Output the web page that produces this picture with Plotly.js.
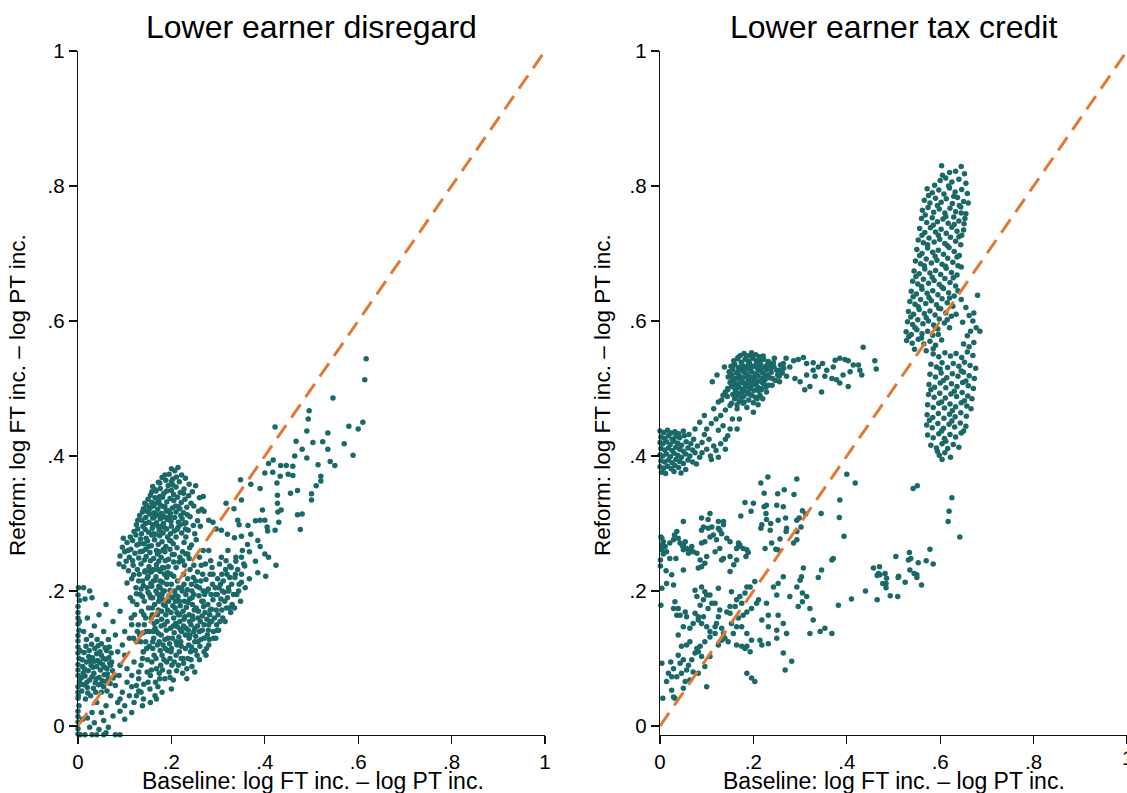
<!DOCTYPE html>
<html>
<head>
<meta charset="utf-8">
<script src="https://cdn.plot.ly/plotly-3.0.1.min.js"></script>
<style>
  html, body { margin: 0; padding: 0; background: #fff; }
  #chart { width: 1127px; height: 793px; }
</style>
</head>
<body>
<div id="chart"></div>
<script>
// Panel titles, axis titles and tick labels
const panelTitles = ['Lower earner disregard', 'Lower earner tax credit'];
const xTitle = 'Baseline: log FT inc. \u2013 log PT inc.';
const yTitle = 'Reform: log FT inc. \u2013 log PT inc.';
const tickVals = [0, 0.2, 0.4, 0.6, 0.8, 1];
const tickText = ['0', '.2', '.4', '.6', '.8', '1'];
const diagonal = { x: [0, 1], y: [0, 1] };

// ---- Left panel: lower earner disregard, [baseline, reform] pairs ----
const disStrip = [[0,-.012],[0,-.004],[0,.006],[0,.014],[0,.022],[.002,.03],[0,.041],[0,.05],[0,.058],[.003,.066],[0,.075],[0,.083],[0,.091],[.002,.1],[0,.108],[0,.117],[0,.126],[0,.134],[.002,.142],[0,.151],[0,.16],[0,.168],[0,.177],[.003,.186],[0,.194],[.001,.205],[.004,.112],[.004,.072],[.001,.045],[.003,.155]];

const disOrigin = [[.008,.052],[.012,.061],[.015,.074],[.01,.088],[.018,.095],[.022,.082],[.025,.068],[.02,.057],[.028,.09],[.031,.101],[.034,.078],[.037,.064],[.04,.088],[.042,.097],[.045,.072],[.048,.083],[.05,.105],[.053,.091],[.056,.076],[.059,.099],[.062,.085],[.065,.07],[.068,.093],[.071,.108],[.013,.109],[.017,.118],[.024,.112],[.029,.121],[.036,.115],[.043,.119],[.049,.062],[.055,.058],[.038,.05],[.027,.045],[.016,.04],[.007,.071],[.009,.098],[.032,.087],[.046,.094],[.052,.067],[.061,.112],[.066,.101],[.074,.082],[.069,.063],[.058,.116],[.04,.107],[.023,.103],[.011,.078],[.019,.065],[.035,.096],[.044,.061],[.057,.087],[.03,.073],[.026,.097],[.014,.084],[.039,.07],[.047,.11],[.063,.077],[.072,.095],[.021,.049],[.033,.056],[.054,.1],[.06,.066],[.067,.117],[.075,.071],[.006,.062],[.018,.128],[.028,.134],[.041,.128],[.05,.122]];

const disLowScatter = [[.012,.205],[.025,.2],[.015,.188],[.03,.19],[.06,.18],[.045,.165],[.02,.16],[.035,.148],[.055,.14],[.075,.155],[.09,.17],[.012,.14],[.065,.128],[.08,.135],[.095,.12],[.085,.11],[.1,.105],[.11,.13],[.12,.095],[.105,.085],[.09,.09],[.08,.06],[.095,.05],[.11,.045],[.125,.06],[.13,.08],[.07,.045],[.085,.035],[.06,.03],[.05,.02],[.04,.035],[.03,.02],[.02,.012],[.035,.005],[.055,.008],[.075,.015],[.09,.022],[.1,.01],[.065,-.002],[.045,-.005],[.025,-.002],[.01,.01],[.015,-.013],[.03,-.013],[.04,-.013],[.055,-.013],[.06,-.01],[.08,-.013],[.09,-.013],[.005,-.013],[.115,.02],[.12,.035],[.135,.05],[.14,.11],[.115,.15],[.1,.14],[.125,.125],[.07,.09],[.078,.075],[.088,.075],[.105,.065],[.115,.075],[.05,.05],[.062,.052],[.138,.03],[.09,.04],[.1,.03],[.125,.045],[.14,.04],[.155,.035],[.168,.04],[.115,.058],[.13,.052]];

const disUpperBlob = [[.2,.381],[.207,.378],[.214,.383],[.195,.373],[.222,.372],
  [.18,.368],[.188,.364],[.203,.366],[.217,.362],[.23,.367],[.172,.361],[.238,.358],
  [.16,.355],[.167,.348],[.176,.352],[.184,.345],[.193,.356],[.2,.349],[.21,.354],[.219,.346],[.227,.351],[.245,.347],[.252,.356],[.155,.342],
  [.15,.336],[.158,.331],[.165,.338],[.173,.333],[.181,.339],[.19,.332],[.197,.337],[.205,.334],[.213,.339],[.221,.331],[.229,.336],[.237,.341],[.26,.338],[.143,.33],
  [.14,.322],[.148,.318],[.156,.324],[.163,.316],[.171,.321],[.179,.315],[.186,.325],[.194,.319],[.202,.323],[.21,.317],[.218,.322],[.226,.316],[.233,.324],[.248,.326],[.265,.321],[.132,.312],
  [.137,.305],[.145,.309],[.152,.302],[.16,.308],[.168,.301],[.176,.307],[.183,.3],[.191,.306],[.199,.303],[.207,.309],[.215,.302],[.223,.307],[.231,.301],[.24,.31],[.256,.304],[.125,.298],
  [.12,.288],[.128,.292],[.136,.285],[.144,.291],[.151,.287],[.159,.293],[.166,.284],[.174,.29],[.182,.286],[.19,.292],[.198,.285],[.206,.289],[.214,.294],[.222,.286],[.236,.29],[.25,.285],[.112,.28],
  [.105,.272],[.117,.275],[.126,.268],[.134,.277],[.141,.27],[.149,.274],[.157,.267],[.164,.276],[.172,.269],[.18,.273],[.188,.266],[.196,.275],[.204,.27],[.212,.264],[.227,.272],[.243,.268],[.095,.265],
  [.09,.252],[.1,.258],[.11,.25],[.122,.256],[.13,.249],[.138,.259],[.146,.251],[.154,.257],[.162,.248],[.17,.255],[.178,.25],[.186,.258],[.194,.247],[.202,.254],[.218,.25],[.235,.255],[.088,.24],
  [.098,.236],[.108,.23],[.118,.238],[.127,.232],[.135,.24],[.143,.228],[.152,.236],[.16,.231],[.168,.239],[.176,.229],[.184,.234],[.192,.227],[.21,.235],[.228,.238],
  [.105,.212],[.115,.218],[.13,.215],[.14,.208],[.148,.219],[.156,.211],[.165,.216],[.173,.207],[.181,.213],[.19,.22],[.2,.21],[.215,.205],
  [.125,.196],[.138,.192],[.15,.198],[.16,.19],[.17,.196],[.18,.188],[.195,.193],[.112,.19],
  [.162,.326],[.17,.313],[.185,.31],[.178,.296],[.192,.28],[.175,.282],[.16,.298],[.153,.314],[.2,.296],[.21,.28],[.168,.26],[.183,.262],[.197,.262],[.145,.262],[.155,.245],[.187,.245],[.173,.244],[.205,.243],[.19,.348],[.175,.34],[.205,.343],[.22,.312],[.23,.292],[.145,.3],[.138,.317],[.165,.35],[.2,.362],
  [.097,.278],[.103,.244],[.113,.262],[.119,.224],[.124,.283],[.133,.258],[.139,.296],[.142,.246],[.147,.327],[.151,.266],[.154,.229],[.158,.283],[.163,.309],[.167,.221],[.171,.296],[.174,.258],[.177,.327],[.181,.235],[.185,.294],[.189,.318],[.193,.236],[.196,.31],[.199,.274],[.203,.357],[.206,.254],[.209,.326],[.212,.291],[.216,.243],[.219,.298],[.224,.258],[.226,.345],[.231,.28],[.234,.313],[.239,.264],[.242,.33],[.247,.297],[.253,.276],[.258,.318],[.262,.296],[.268,.34],[.186,.372],[.211,.369],[.175,.36],[.158,.347],[.146,.278],[.132,.27],[.117,.245],[.107,.26],[.128,.305],[.152,.32],[.166,.33],[.183,.325],[.198,.315],[.215,.325],[.228,.3],[.178,.308],[.161,.285],[.172,.232],[.158,.207],[.135,.203],[.185,.2]];

const disBridge = [[.121,.165],[.126,.18],[.129,.15],[.133,.195],[.136,.17],[.139,.138],[.142,.185],[.145,.16],[.148,.205],[.151,.175],[.153,.14],[.156,.19],[.159,.165],[.161,.215],[.164,.18],[.167,.2],[.17,.165],[.173,.185],[.176,.215],[.179,.17],[.182,.2],[.185,.225],[.124,.205],[.131,.225],[.138,.215],[.144,.23],[.15,.222],[.157,.228],[.163,.232],[.127,.14],[.134,.125],[.141,.165],[.147,.115],[.153,.195],[.16,.125],[.168,.14],[.174,.125],[.117,.185],[.114,.16],[.119,.13],
  [.172,.172],[.18,.195],[.186,.185],[.192,.172],[.197,.201],[.203,.178],[.208,.195],[.213,.215],[.217,.185],[.222,.205],[.226,.225],[.231,.195],[.235,.218],[.24,.232],[.244,.2],[.248,.238],[.252,.215],[.256,.228],[.212,.168],[.19,.21],[.176,.205],[.199,.225],[.205,.222],[.238,.248],[.224,.245],[.231,.255],[.26,.25],[.268,.26],[.273,.24],[.28,.26]];

const disLowerBand = [[.13,.07],[.135,.09],[.14,.11],[.145,.125],[.132,.135],[.148,.08],[.142,.15],[.138,.1],[.15,.065],[.146,.14],
  [.155,.075],[.158,.095],[.16,.115],[.162,.13],[.165,.145],[.168,.085],[.157,.16],[.163,.105],[.17,.12],[.166,.065],[.159,.175],[.169,.155],[.161,.14],
  [.175,.07],[.177,.09],[.18,.105],[.182,.12],[.178,.135],[.185,.15],[.188,.165],[.183,.18],[.176,.112],[.19,.095],[.186,.128],[.179,.158],[.189,.142],[.181,.083],[.187,.178],[.175,.19],
  [.195,.08],[.197,.1],[.2,.115],[.202,.13],[.198,.145],[.205,.16],[.208,.175],[.203,.19],[.196,.122],[.21,.105],[.206,.138],[.199,.168],[.209,.152],[.201,.09],[.207,.2],[.194,.185],[.204,.068],[.21,.125],
  [.215,.09],[.217,.11],[.22,.125],[.222,.14],[.218,.155],[.225,.17],[.228,.185],[.223,.2],[.216,.132],[.23,.115],[.226,.148],[.219,.178],[.229,.162],[.221,.1],[.227,.21],[.214,.192],[.224,.078],[.23,.135],[.218,.165],
  [.235,.1],[.237,.12],[.24,.135],[.242,.15],[.238,.165],[.245,.18],[.248,.195],[.243,.21],[.236,.142],[.25,.125],[.246,.158],[.239,.188],[.249,.172],[.241,.11],[.247,.22],[.234,.202],[.244,.088],[.25,.145],[.238,.13],[.245,.163],
  [.255,.105],[.257,.125],[.26,.14],[.262,.155],[.258,.17],[.265,.185],[.268,.2],[.263,.215],[.256,.148],[.27,.13],[.266,.163],[.259,.193],[.269,.177],[.261,.118],[.267,.225],[.254,.207],[.264,.238],[.27,.15],
  [.275,.115],[.277,.135],[.28,.15],[.282,.165],[.278,.18],[.285,.195],[.288,.21],[.283,.225],[.276,.158],[.29,.14],[.286,.173],[.279,.203],[.289,.187],[.281,.128],[.287,.235],[.274,.217],[.284,.245],
  [.295,.13],[.297,.15],[.3,.165],[.302,.18],[.298,.195],[.305,.21],[.308,.225],[.303,.24],[.296,.172],[.31,.16],[.306,.188],[.299,.218],[.309,.2],[.301,.142],[.307,.25],
  [.315,.155],[.318,.175],[.32,.19],[.322,.205],[.325,.22],[.328,.235],[.317,.245],[.33,.18],[.323,.2],[.319,.225],[.327,.168],[.321,.26],
  [.335,.175],[.34,.195],[.345,.21],[.35,.225],[.355,.24],[.338,.25],[.348,.185],[.358,.205],[.342,.232],[.352,.26],
  [.192,.112],[.213,.147],[.232,.176],[.252,.133],[.271,.195],[.211,.082],[.226,.093],[.243,.117],[.26,.098],[.283,.155],[.294,.205],[.313,.198],[.186,.07],[.171,.058],[.2,.055],[.154,.055],[.233,.07],[.25,.08],[.165,.045],[.18,.05],
  [.141,.062],[.149,.098],[.153,.118],[.157,.083],[.163,.152],[.167,.1],[.172,.137],[.174,.078],[.178,.148],[.184,.098],[.187,.115],[.191,.155],[.193,.13],[.197,.072],[.199,.11],[.204,.148],[.206,.095],[.209,.185],[.212,.12],[.215,.165],[.219,.143],[.221,.118],[.225,.1],[.227,.158],[.231,.145],[.233,.085],[.236,.183],[.239,.155],[.242,.098],[.244,.19],[.248,.14],[.251,.112],[.253,.175],[.257,.16],[.26,.205],[.263,.128],[.266,.142],[.268,.185],[.272,.168],[.274,.105],[.276,.2],[.279,.142],[.283,.172],[.286,.155],[.289,.225],[.292,.16],[.295,.195],[.298,.142],[.302,.205],[.304,.155],[.308,.172],[.311,.215],[.314,.185],[.316,.232],[.324,.175],[.329,.21],[.333,.195],[.337,.225],[.344,.2],[.27,.11],[.28,.12],[.29,.13]];

const disUpperTail = [[.617,.544],[.614,.513],[.546,.486],[.495,.467],[.493,.455],[.422,.443],[.49,.437],[.535,.434],[.58,.444],[.6,.44],[.61,.45],[.467,.422],[.503,.42],[.524,.421],[.57,.418],[.535,.41],[.589,.401],[.48,.41],[.464,.4],[.49,.397],[.54,.392],[.55,.386],[.514,.387],[.418,.394],[.408,.389],[.434,.386],[.446,.386],[.417,.376],[.46,.385],[.45,.373],[.46,.371],[.52,.37],[.52,.363],[.51,.356],[.5,.344],[.5,.335],[.47,.349],[.455,.345],[.433,.37],[.426,.36],[.427,.342],[.4,.375],[.39,.352],[.348,.365],[.37,.358],[.427,.33],[.428,.317],[.435,.32],[.395,.32],[.38,.304],[.39,.305],[.4,.305],[.405,.295],[.43,.302],[.47,.313],[.48,.314],[.476,.291],[.406,.289],[.422,.29],[.37,.284],[.364,.297],[.345,.298],[.342,.305],[.317,.33],[.35,.335],[.334,.322],[.27,.318],[.28,.305],[.289,.302],[.296,.292],[.307,.29],[.32,.284],[.335,.279],[.35,.281],[.363,.269],[.385,.275],[.39,.266],[.4,.255],[.408,.25],[.424,.238],[.367,.258],[.35,.25],[.338,.244],[.325,.237],[.357,.237],[.38,.244],[.402,.222],[.385,.227],[.336,.22],[.367,.218],[.35,.213]];

// ---- Right panel: lower earner tax credit, [baseline, reform] pairs ----
const creZeroCluster = [[0,.437],[.008,.435],[.016,.438],[.024,.434],[.032,.436],[.04,.433],[.05,.437],
  [.002,.428],[.01,.426],[.018,.43],[.026,.425],[.034,.429],[.042,.427],[.052,.43],[.062,.432],
  [0,.42],[.006,.418],[.014,.421],[.022,.417],[.03,.422],[.038,.419],[.046,.416],[.056,.421],[.066,.418],
  [.002,.411],[.01,.409],[.018,.412],[.026,.408],[.034,.413],[.042,.41],[.05,.407],[.06,.412],[.07,.409],
  [0,.402],[.006,.4],[.014,.403],[.022,.399],[.03,.404],[.038,.401],[.046,.398],[.055,.403],[.064,.4],[.075,.405],
  [.002,.393],[.01,.391],[.018,.394],[.026,.39],[.034,.395],[.042,.392],[.05,.389],[.06,.394],[.07,.391],
  [0,.384],[.008,.382],[.016,.385],[.024,.381],[.032,.386],[.04,.383],[.055,.38],
  [.003,.376],[.012,.374],[.03,.377],[.045,.375],
  [.08,.415],[.085,.398],[.078,.388],[.072,.425],[.09,.405]];

const creRise = [[.09,.42],[.095,.432],[.1,.44],[.105,.425],[.11,.448],[.115,.415],[.12,.455],[.125,.438],[.13,.46],[.135,.445],[.14,.468],[.145,.43],[.15,.475],[.155,.455],[.16,.485],[.1,.41],[.108,.4],[.12,.408],[.13,.418],[.14,.41],[.085,.45],[.075,.44],[.095,.46],[.115,.47],[.125,.48],[.135,.49],[.145,.498],[.165,.47],[.17,.455],[.165,.44],[.175,.495],[.18,.48],[.11,.395],[.125,.398],[.14,.425],[.15,.44],[.112,.51],[.132,.483],[.153,.478],[.144,.488]];

const creMidCluster = [[.172,.549],[.18,.552],[.188,.548],[.196,.553],[.205,.55],[.213,.547],
  [.158,.541],[.166,.544],[.174,.539],[.182,.543],[.19,.54],[.198,.545],[.206,.541],[.214,.538],[.222,.543],[.232,.54],
  [.152,.533],[.16,.536],[.168,.531],[.176,.535],[.184,.532],[.192,.537],[.2,.533],[.208,.53],[.216,.535],[.224,.531],[.234,.536],[.244,.532],
  [.148,.525],[.156,.528],[.164,.523],[.172,.527],[.18,.524],[.188,.529],[.196,.525],[.204,.522],[.212,.527],[.22,.523],[.228,.528],[.238,.524],[.25,.527],[.262,.523],
  [.146,.517],[.154,.52],[.162,.515],[.17,.519],[.178,.516],[.186,.521],[.194,.517],[.202,.514],[.21,.519],[.218,.515],[.226,.52],[.235,.516],[.247,.512],
  [.15,.509],[.158,.512],[.166,.507],[.174,.511],[.182,.508],[.19,.513],[.198,.509],[.206,.506],[.214,.511],[.222,.507],[.232,.505],[.256,.51],
  [.145,.5],[.153,.503],[.161,.498],[.169,.502],[.177,.499],[.185,.504],[.193,.5],[.201,.497],[.209,.502],[.217,.498],[.228,.495],
  [.156,.491],[.164,.488],[.172,.493],[.18,.489],[.188,.494],[.196,.49],[.204,.487],[.214,.49],
  [.17,.481],[.178,.478],[.19,.483],[.2,.479],[.21,.476],[.186,.472],[.165,.476],
  [.122,.52],[.138,.532],[.14,.495],[.24,.505],[.255,.518],[.265,.53],[.27,.545],[.245,.545],[.2,.465],[.22,.485],
  [.151,.521],[.157,.534],[.163,.495],[.167,.546],[.171,.515],[.175,.487],[.179,.53],[.183,.502],[.185,.548],[.187,.517],[.191,.492],[.195,.531],[.197,.505],[.199,.549],[.203,.517],[.207,.536],[.211,.497],[.215,.528],[.219,.509],[.221,.548],[.225,.513],[.229,.535],[.231,.52],[.237,.53],[.241,.515],[.243,.538],[.252,.52],[.258,.535],[.161,.506],[.169,.528],[.177,.508],[.193,.509],[.205,.512],[.217,.5],[.227,.502],[.18,.497],[.208,.485],[.155,.513],[.212,.542],[.189,.535]];

const creFlatTail = [[.286,.541],[.296,.543],[.307,.546],[.314,.537],[.328,.538],[.339,.532],[.348,.537],[.3,.51],[.31,.498],[.321,.503],[.332,.518],[.346,.495],[.353,.518],[.368,.515],[.375,.542],[.385,.545],[.396,.543],[.403,.541],[.414,.535],[.425,.535],[.428,.527],[.407,.525],[.392,.52],[.378,.513],[.385,.508],[.403,.503],[.432,.52],[.435,.561],[.46,.541],[.463,.529],[.278,.532],[.271,.518],[.289,.515],[.314,.52],[.328,.527],[.357,.527],[.371,.532],[.264,.537],[.256,.527]];

const creHighBlob = [[.645,.829],[.633,.822],[.652,.818],
  [.6,.808],[.612,.812],[.625,.806],[.64,.81],[.655,.804],[.588,.801],
  [.572,.796],[.583,.79],[.597,.794],[.608,.788],[.62,.797],[.632,.791],[.646,.795],[.658,.789],
  [.566,.779],[.578,.775],[.59,.782],[.602,.776],[.613,.781],[.626,.774],[.637,.783],[.65,.777],
  [.562,.764],[.574,.768],[.586,.761],[.598,.766],[.61,.76],[.621,.767],[.633,.762],[.644,.769],[.655,.759],
  [.56,.752],[.571,.746],[.583,.753],[.594,.747],[.606,.751],[.617,.745],[.629,.754],[.64,.748],[.651,.744],
  [.556,.737],[.567,.731],[.579,.738],[.59,.732],[.602,.736],[.613,.73],[.625,.739],[.636,.733],[.646,.727],
  [.553,.72],[.564,.716],[.576,.723],[.587,.717],[.599,.721],[.61,.715],[.622,.724],[.633,.718],[.644,.713],
  [.55,.706],[.561,.7],[.573,.708],[.584,.702],[.596,.705],[.607,.699],[.619,.709],[.63,.703],[.641,.697],
  [.547,.689],[.558,.685],[.57,.692],[.581,.686],[.593,.69],[.604,.684],[.616,.693],[.627,.687],[.638,.682],
  [.544,.674],[.555,.67],[.567,.677],[.578,.671],[.59,.675],[.601,.669],[.613,.678],[.624,.672],[.636,.668],
  [.541,.659],[.552,.655],[.564,.662],[.575,.656],[.587,.66],[.598,.654],[.61,.663],[.621,.657],[.633,.652],
  [.538,.644],[.549,.64],[.561,.647],[.572,.641],[.584,.645],[.595,.639],[.607,.648],[.618,.642],[.63,.637],
  [.535,.629],[.546,.625],[.558,.632],[.569,.626],[.581,.63],[.592,.624],[.604,.633],[.615,.627],[.627,.622],
  [.532,.614],[.543,.61],[.555,.617],[.566,.611],[.578,.615],[.589,.609],[.601,.618],[.612,.612],[.624,.607],
  [.53,.599],[.541,.595],[.552,.602],[.563,.596],[.575,.6],[.586,.594],[.598,.603],[.609,.597],
  [.527,.584],[.538,.58],[.55,.587],[.561,.581],[.573,.585],[.584,.579],[.595,.588],
  [.528,.571],[.54,.567],[.553,.573],[.565,.566],[.578,.57],[.59,.564],[.603,.572],
  [.545,.558],[.57,.556],[.585,.559],
  [.605,.816],[.618,.8],[.629,.785],[.575,.786],[.594,.771],[.641,.771],[.568,.757],[.612,.755],[.653,.752],[.585,.742],[.63,.743],[.561,.727],[.596,.727],[.64,.725],[.573,.713],[.615,.712],[.556,.697],[.589,.696],[.636,.695],[.566,.682],[.611,.681],[.548,.666],[.583,.665],[.628,.664],[.56,.651],[.604,.65],[.542,.636],[.576,.635],[.62,.634],[.553,.621],[.597,.619],[.537,.606],[.57,.605],[.615,.602],[.546,.59],[.59,.59],[.533,.577],[.56,.575],[.596,.58],[.62,.59],[.634,.61],[.638,.645],[.645,.68],[.65,.735],[.645,.76],[.66,.775],[.603,.83],[.62,.82],
  [.645,.632],[.655,.62],[.662,.608],[.67,.6],[.677,.59],[.68,.638],[.665,.585],[.648,.598],[.658,.578],[.672,.612],[.685,.585]];

const creLowBlob = [[.65,.566],[.662,.562],[.672,.568],
  [.585,.551],[.597,.547],[.61,.553],[.622,.548],[.634,.552],[.646,.546],[.658,.554],[.67,.549],
  [.58,.536],[.592,.532],[.604,.538],[.616,.531],[.628,.537],[.64,.533],[.652,.539],[.664,.534],[.676,.53],
  [.578,.521],[.59,.517],[.602,.523],[.614,.516],[.626,.522],[.638,.518],[.65,.524],[.662,.519],[.673,.515],
  [.576,.506],[.588,.502],[.6,.508],[.612,.501],[.624,.507],[.636,.503],[.648,.509],[.66,.504],[.671,.5],
  [.575,.491],[.587,.487],[.599,.493],[.611,.486],[.623,.492],[.635,.488],[.647,.494],[.659,.489],[.668,.485],
  [.573,.476],[.585,.472],[.597,.478],[.609,.471],[.621,.477],[.633,.473],[.645,.479],[.657,.474],[.666,.47],
  [.572,.461],[.584,.457],[.596,.463],[.608,.456],[.62,.462],[.632,.458],[.644,.464],[.656,.459],
  [.571,.446],[.583,.442],[.595,.448],[.607,.441],[.619,.447],[.631,.443],[.643,.449],[.655,.444],
  [.573,.431],[.585,.427],[.597,.433],[.609,.426],[.621,.432],[.633,.428],[.645,.434],
  [.58,.416],[.592,.412],[.604,.418],[.616,.411],[.628,.417],[.64,.413],
  [.598,.401],[.61,.405],[.622,.398],[.604,.395],
  [.6,.529],[.645,.526],[.607,.512],[.655,.511],[.58,.498],[.63,.496],[.603,.48],[.652,.482],[.626,.467],[.577,.453],[.625,.452],[.603,.437],[.65,.437],[.612,.422],[.594,.407]];

const creLowScatter = [[.231,.369],[.216,.36],[.293,.366],[.266,.35],[.252,.344],[.223,.345],[.287,.343],[.4,.373],[.418,.36],[.385,.335],[.384,.309],[.394,.281],[.345,.315],[.305,.319],[.312,.314],[.264,.325],[.25,.327],[.228,.327],[.223,.325],[.227,.315],[.2,.33],[.195,.318],[.182,.331],[.173,.311],[.228,.306],[.237,.3],[.218,.298],[.236,.29],[.216,.293],[.253,.305],[.269,.308],[.271,.293],[.27,.288],[.293,.305],[.298,.308],[.293,.288],[.302,.295],[.286,.271],[.293,.276],[.257,.277],[.248,.262],[.252,.261],[.239,.271],[.225,.263],[.186,.261],[.189,.257],[.168,.271],
  [.002,.28],[.007,.273],[.011,.266],[.004,.261],[.014,.258],[.021,.271],[.029,.276],[.036,.288],[.031,.283],[.039,.278],[.043,.271],[.05,.268],[.057,.263],[.064,.261],[.071,.258],[.054,.273],[.048,.267],[.061,.256],[.068,.266],[.079,.256],[.089,.271],[.096,.273],[.093,.295],[.089,.29],[.107,.28],[.114,.283],[.128,.29],[.132,.285],[.136,.298],[.143,.278],[.15,.273],[.121,.276],[.128,.263],[.118,.258],[.103,.293],[.111,.295],[.125,.293],[.164,.263],[.168,.266],[.178,.263],[.184,.251],[.15,.251],[.164,.246],[.171,.268],[.158,.239],[.15,.229],[.136,.248],[.132,.246],[.086,.246],[.082,.234],[.089,.236],[.096,.241],[.1,.251],[.05,.231],[.034,.248],[.021,.248],[.013,.23],[.025,.224],[.014,.211],[.029,.209],[.05,.261],[.004,.278],[.004,.268],[.007,.255],[.001,.246],[.001,.237],[.103,.306],[.107,.315],[.125,.303],[.136,.303],[.05,.303],[.089,.308],
  [.004,.204],[.002,.179],[.032,.184],[.039,.174],[.029,.174],[.036,.164],[.043,.164],[.054,.169],[.057,.162],[.039,.135],[.05,.147],[.064,.145],[.075,.167],[.082,.162],[.086,.179],[.079,.192],[.075,.201],[.089,.206],[.096,.199],[.093,.187],[.1,.194],[.107,.194],[.111,.182],[.103,.174],[.093,.162],[.071,.152],[.082,.157],[.089,.152],[.1,.147],[.107,.14],[.118,.147],[.118,.182],[.125,.204],[.128,.172],[.125,.162],[.121,.152],[.132,.145],[.136,.137],[.132,.127],[.125,.12],[.118,.137],[.107,.132],[.096,.125],[.086,.118],[.079,.115],[.064,.125],[.057,.12],[.046,.118],[.039,.105],[.05,.098],[.043,.093],[.029,.085],[.023,.095],[.018,.078],[.004,.093],[.014,.066],[.025,.073],[.036,.073],[.046,.078],[.057,.083],[.061,.09],[.068,.098],[.075,.108],[.082,.11],[.089,.103],[.096,.088],[.107,.103],[.082,.078],[.064,.068],[.054,.066],[.05,.056],[.071,.08],[.025,.053],[.029,.043],[.032,.041],[.006,.041],[.1,.058],
  [.153,.199],[.15,.177],[.143,.169],[.15,.167],[.161,.177],[.164,.187],[.171,.192],[.175,.182],[.182,.197],[.186,.206],[.193,.206],[.203,.214],[.211,.187],[.207,.182],[.196,.174],[.186,.169],[.178,.164],[.168,.16],[.164,.147],[.175,.147],[.157,.137],[.146,.125],[.139,.13],[.153,.152],[.164,.12],[.175,.118],[.186,.137],[.196,.127],[.186,.118],[.182,.115],[.193,.11],[.186,.078],[.196,.071],[.203,.066],[.228,.182],[.232,.164],[.25,.194],[.253,.164],[.264,.152],[.264,.108],[.268,.083],[.25,.142],[.25,.13],[.232,.122],[.243,.206],[.253,.211],[.293,.206],[.296,.177],[.3,.216],[.305,.197],[.305,.184],[.307,.234],[.303,.221],[.314,.192],[.321,.174],[.321,.137],[.343,.14],[.339,.22],[.353,.145],[.368,.137],[.382,.179],[.278,.192],[.282,.096],[.271,.137],[.264,.221],[.218,.12],[.214,.127],[.218,.157],[.232,.147],[.328,.157],[.346,.231],[.368,.246],[.371,.248]];

const creRightClump = [[.457,.234],[.47,.236],[.468,.226],[.465,.223],[.471,.224],[.482,.226],[.485,.219],[.484,.211],[.477,.211],[.484,.205],[.465,.187],[.493,.193],[.509,.192],[.505,.251],[.511,.222],[.51,.22],[.525,.213],[.534,.257],[.532,.246],[.537,.248],[.535,.231],[.544,.226],[.55,.224],[.553,.242],[.55,.22],[.56,.209],[.57,.245],[.578,.262],[.585,.24],[.542,.352],[.551,.356],[.617,.303],[.619,.318],[.625,.338],[.642,.28],[.44,.2],[.41,.188]];

const disregardPts = [].concat(disStrip, disOrigin, disLowScatter, disUpperBlob, disBridge, disLowerBand, disUpperTail);
const taxCreditPts = [].concat(creZeroCluster, creRise, creMidCluster, creFlatTail, creHighBlob, creLowBlob, creLowScatter, creRightClump);

const FONT = 'Liberation Sans, Arial, Helvetica, sans-serif';
const DOT_COLOR = '#1a6868';
const LINE_COLOR = '#df7a35';
const W = 1127, H = 793;

// pixel -> paper helpers
const px = v => v / W;
const py = v => (H - v) / H;

function scatterTrace(points, xa, ya) {
    return {
        x: points.map(p => p[0]),
        y: points.map(p => p[1]),
        xaxis: xa, yaxis: ya,
        type: 'scatter', mode: 'markers',
        marker: { color: DOT_COLOR, size: 5.5, line: { width: 0 } },
        cliponaxis: false,
        hoverinfo: 'skip'
    };
}

function diagTrace(xa, ya) {
    return {
        x: diagonal.x, y: diagonal.y,
        xaxis: xa, yaxis: ya,
        type: 'scatter', mode: 'lines',
        line: { color: LINE_COLOR, width: 3, dash: '16px,9px' },
        cliponaxis: false,
        hoverinfo: 'skip'
    };
}

function axis(domain, range, anchor) {
    return {
        domain: domain, range: range, anchor: anchor,
        showgrid: false, zeroline: false,
        showline: true, linecolor: '#111', linewidth: 1.3,
        ticks: 'outside', ticklen: 8, tickwidth: 1.3, tickcolor: '#111',
        tickmode: 'array', tickvals: tickVals, ticktext: tickText,
        tickfont: { family: FONT, size: 20.5, color: '#000' },
        fixedrange: true
    };
}

const yDomain = [py(735), py(51)];
const yRange = [-0.0133, 1];

const label = (text, x, y, size, extra) => Object.assign({
    text: text, x: x, y: y, xref: 'paper', yref: 'paper',
    xanchor: 'center', yanchor: 'middle', showarrow: false,
    font: { family: FONT, size: size, color: '#000' }
}, extra || {});

const layout = {
    width: W, height: H,
    margin: { l: 0, r: 0, t: 0, b: 0 },
    paper_bgcolor: '#fff', plot_bgcolor: '#fff',
    showlegend: false,
    xaxis: axis([px(78), px(545)], [0, 1], 'y'),
    yaxis: axis(yDomain, yRange, 'x'),
    xaxis2: axis([px(660), 1], [0, 1], 'y2'),
    yaxis2: axis(yDomain, yRange, 'x2'),
    annotations: [
        label(panelTitles[0], px(311.5), py(27), 32),
        label(panelTitles[1], px(893.5), py(27), 32),
        label(xTitle, px(313), py(781), 23),
        label(xTitle, px(894), py(781), 23),
        label(yTitle, px(18), py(395), 22.5, { textangle: -90 }),
        label(yTitle, px(603), py(395), 22.5, { textangle: -90 }),
        // last tick label of the right panel sits on the page edge, half cut
        label(tickText[5], 1, py(757), 20.5, { xref: 'x2' })
    ]
};

const data = [
    scatterTrace(disregardPts, 'x', 'y'),
    scatterTrace(taxCreditPts, 'x2', 'y2'),
    diagTrace('x', 'y'),
    diagTrace('x2', 'y2')
];

Plotly.newPlot('chart', data, layout, { staticPlot: true, displayModeBar: false });
</script>
</body>
</html>
